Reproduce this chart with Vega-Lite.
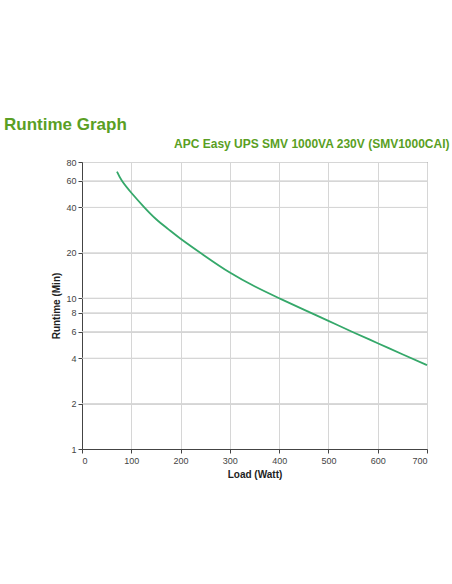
{
  "$schema": "https://vega.github.io/schema/vega-lite/v6.json",
  "width": 345, "height": 287,
  "autosize": "none",
  "padding": {"left": 82, "top": 162, "right": 25, "bottom": 135},
  "background": "white",
  "config": {
    "font": "Liberation Sans",
    "view": {"stroke": "#555", "strokeWidth": 1},
    "axis": {
      "labelFont": "Liberation Sans", "labelFontSize": 9, "labelColor": "#444",
      "titleFont": "Liberation Sans", "titleFontSize": 10, "titleFontWeight": "bold", "titleColor": "#222",
      "domainColor": "#444", "tickColor": "#444", "tickSize": 4,
      "gridColor": "#d6d6d6", "gridWidth": 1
    }
  },
  "title": {
    "text": "Runtime Graph",
    "anchor": "start", "frame": "group",
    "dx": -78, "dy": 25, "offset": 28,
    "font": "Liberation Sans", "fontSize": 17, "fontWeight": "bold", "color": "#5a9f24"
  },
  "datasets": {
    "runtime": [
      {"load": 71, "runtime": 69},
      {"load": 81, "runtime": 60},
      {"load": 100, "runtime": 50},
      {"load": 125, "runtime": 40.5},
      {"load": 150, "runtime": 33.5},
      {"load": 175, "runtime": 28.7},
      {"load": 200, "runtime": 24.8},
      {"load": 250, "runtime": 19},
      {"load": 300, "runtime": 14.8},
      {"load": 350, "runtime": 12},
      {"load": 400, "runtime": 10},
      {"load": 450, "runtime": 8.4},
      {"load": 500, "runtime": 7.07},
      {"load": 550, "runtime": 5.95},
      {"load": 600, "runtime": 5.03},
      {"load": 650, "runtime": 4.25},
      {"load": 700, "runtime": 3.6}
    ],
    "ygrid": [
      {"tick": 2}, {"tick": 4}, {"tick": 6}, {"tick": 8},
      {"tick": 10}, {"tick": 20}, {"tick": 40}, {"tick": 60}
    ]
  },
  "data": {"name": "runtime"},
  "layer": [
    {
      "data": {"name": "ygrid"},
      "mark": {"type": "rule", "color": "#d6d6d6", "strokeWidth": 1},
      "encoding": {
        "y": {"field": "tick", "type": "quantitative", "axis": null}
      }
    },
    {
      "mark": {"type": "line", "color": "#35a86a", "strokeWidth": 1.8, "interpolate": "natural"},
      "encoding": {
        "x": {"field": "load", "type": "quantitative", "title": "Load (Watt)",
          "scale": {"domain": [0, 700], "nice": false},
          "axis": {"values": [0, 100, 200, 300, 400, 500, 600, 700], "grid": true, "titleAnchor": "middle", "titlePadding": 4, "labelPadding": 3}},
        "y": {"field": "runtime", "type": "quantitative", "title": "Runtime (Min)",
          "scale": {"type": "log", "domain": [1, 80], "nice": false},
          "axis": {"values": [1, 2, 4, 6, 8, 10, 20, 40, 60, 80], "grid": true, "labelPadding": 2, "titlePadding": 4}}
      }
    },
    {
      "mark": {"type": "line", "opacity": 0},
      "encoding": {
        "x": {"field": "load", "type": "quantitative",
          "title": "APC Easy UPS SMV 1000VA 230V (SMV1000CAI)",
          "axis": {"orient": "top", "labels": false, "ticks": false, "grid": false, "domain": false,
            "titleAnchor": "end", "titleAlign": "right", "titleX": 367, "titleY": -15,
            "titleBaseline": "alphabetic",
            "titleFontSize": 12, "titleColor": "#5a9f24", "titleFontWeight": "bold"}},
        "y": {"field": "runtime", "type": "quantitative", "axis": null}
      }
    }
  ],
  "resolve": {"axis": {"x": "independent", "y": "independent"}}
}
